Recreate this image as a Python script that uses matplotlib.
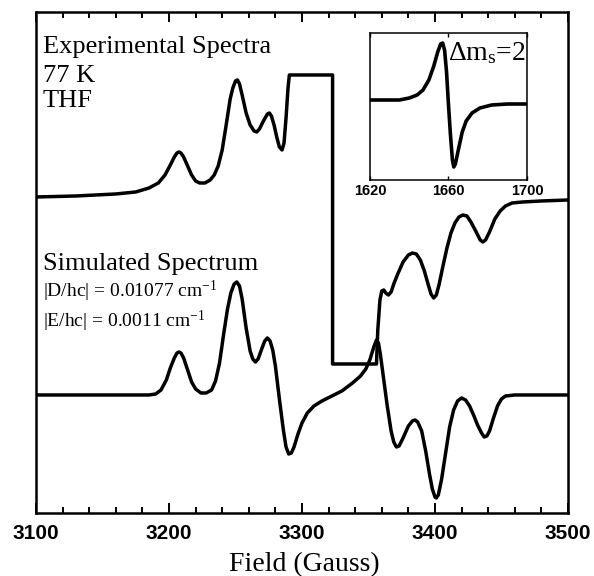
"""
EPR spectra: experimental (77 K, THF) vs simulated, with Δms=2 inset.
"""
import matplotlib
matplotlib.use("Agg")
import matplotlib.pyplot as plt
from matplotlib.ticker import MultipleLocator

# ── data (field in Gauss, intensity in arbitrary units) ──────────────────────
EXP_FIELD = [3100, 3130, 3160, 3175, 3185, 3192, 3197, 3201, 3204, 3206,
             3207.5, 3209, 3211, 3214, 3217, 3220, 3223, 3227, 3231, 3234,
             3237, 3240, 3243, 3246, 3248, 3250, 3251.5, 3253, 3255, 3258,
             3261, 3264, 3266, 3268, 3271, 3274, 3275.5, 3277, 3279, 3281,
             3283, 3285, 3286.5, 3288, 3289.5, 3290.5,
             3323, 3323, 3356,
             3357, 3358.6, 3360, 3361.5, 3363, 3365, 3367, 3369, 3372, 3376,
             3380, 3383, 3386, 3389, 3392, 3395, 3397, 3399, 3401, 3403,
             3406, 3409, 3412, 3415, 3418, 3421, 3424, 3427, 3431, 3434,
             3436, 3438, 3441, 3445, 3449, 3453, 3458, 3466, 3480, 3500]
EXP_INT = [316, 317, 319, 321, 325, 330, 338, 348, 356, 360,
           361, 360, 356, 347, 338, 332, 330, 330, 333, 338,
           347, 363, 388, 414, 425, 432, 433, 429, 418, 400,
           388, 382, 381, 384, 392, 399, 400, 397, 388, 376,
           366, 363, 370, 395, 425, 438,
           438, 149, 149,
           183, 213, 222, 223, 220, 218, 221, 229, 239, 251,
           258, 260, 259, 253, 242, 228, 219, 215, 218, 228,
           247, 265, 280, 290, 296, 298, 297, 291, 281, 273,
           271, 273, 281, 294, 302, 307, 310, 311, 312, 313]

SIM_FIELD = [3100, 3185, 3190, 3194, 3198, 3201, 3204, 3206, 3207.5, 3209,
             3211, 3214, 3217, 3220, 3224, 3228, 3232, 3235, 3238, 3241,
             3244, 3246.5, 3249, 3251, 3253, 3255, 3258, 3261, 3263, 3265,
             3267, 3270, 3272, 3274, 3276, 3278, 3280, 3283, 3286, 3288,
             3290, 3292, 3294, 3297, 3300, 3304, 3309, 3315, 3321, 3330,
             3338, 3344, 3348, 3351, 3354, 3356, 3357.5, 3359, 3361, 3364,
             3367, 3369, 3371, 3373, 3376, 3380, 3383, 3385, 3387, 3390,
             3393, 3396, 3398, 3400, 3401, 3402.5, 3405, 3408, 3411, 3414,
             3417, 3420, 3423, 3426, 3429, 3432, 3435, 3437, 3439, 3441,
             3444, 3447, 3450, 3453, 3460, 3500]
SIM_INT = [118, 118, 119, 123, 133, 145, 155, 160, 161, 160,
           155, 143, 131, 124, 120, 120, 123, 132, 150, 178,
           204, 220, 229, 231, 227, 214, 185, 162, 154, 151,
           154, 165, 172, 175, 172, 163, 147, 114, 83, 66,
           59, 60, 66, 79, 90, 100, 107, 112, 116, 122,
           130, 137, 144, 153, 166, 173, 170, 158, 138, 108,
           82, 71, 66, 67, 75, 87, 92, 93, 91, 82,
           62, 38, 24, 16, 15, 18, 34, 60, 86, 103,
           112, 115, 113, 107, 98, 88, 80, 76, 77, 82,
           95, 107, 114, 117, 118, 118]

INSET_FIELD = [1620, 1635, 1640, 1644, 1647, 1650, 1652.5, 1654.5, 1656, 1657,
               1658, 1659, 1660, 1661, 1662, 1662.7, 1663.5, 1665, 1667, 1669,
               1672, 1676, 1682, 1690, 1700]
INSET_INT = [80, 80, 82, 85, 90, 100, 114, 128, 136, 137,
             130, 108, 75, 45, 20, 13, 16, 30, 48, 59,
             67, 72, 75, 76, 76]

MAIN_TICKS = [3100, 3200, 3300, 3400, 3500]
INSET_TICKS = [1620, 1660, 1700]

# ── style ────────────────────────────────────────────────────────────────────
plt.rcParams["mathtext.fontset"] = "custom"
plt.rcParams["mathtext.rm"] = "Liberation Serif"
plt.rcParams["mathtext.it"] = "Liberation Serif:italic"
SERIF = "Liberation Serif"
SANS = "Liberation Sans"

fig = plt.figure(figsize=(5.94, 5.76), dpi=100)
ax = fig.add_axes([0.0606, 0.1094, 0.8956, 0.8698])

ax.plot(EXP_FIELD, EXP_INT, color="black", lw=2.5, solid_joinstyle="round")
ax.plot(SIM_FIELD, SIM_INT, color="black", lw=2.5, solid_joinstyle="round")

ax.set_xlim(3100, 3500)
ax.set_ylim(0, 501)
ax.set_yticks([])
ax.set_xticks(MAIN_TICKS)
ax.xaxis.set_minor_locator(MultipleLocator(20))
ax.tick_params(axis="x", which="both", direction="in", top=True, bottom=True,
               width=1.4, pad=8)
ax.tick_params(axis="x", which="major", length=7)
ax.tick_params(axis="x", which="minor", length=4)
for lab in ax.get_xticklabels():
    lab.set_fontfamily(SANS)
    lab.set_fontweight("bold")
    lab.set_fontsize(15)
for sp in ax.spines.values():
    sp.set_linewidth(1.8)

fig.text(0.512, 0.009, "Field (Gauss)", family=SERIF, fontsize=20,
         ha="center", va="baseline")

# ── annotations ──────────────────────────────────────────────────────────────
ax.text(0.013, 0.918, "Experimental Spectra", transform=ax.transAxes,
        family=SERIF, fontsize=19, va="baseline")
ax.text(0.013, 0.860, "77 K", transform=ax.transAxes,
        family=SERIF, fontsize=19, va="baseline")
ax.text(0.013, 0.810, "THF", transform=ax.transAxes,
        family=SERIF, fontsize=19, va="baseline")
ax.text(0.013, 0.485, "Simulated Spectrum", transform=ax.transAxes,
        family=SERIF, fontsize=19, va="baseline")
ax.text(0.013, 0.431, r"|D/hc| = 0.01077 cm$^{-1}$", transform=ax.transAxes,
        family=SERIF, fontsize=14, va="baseline")
ax.text(0.013, 0.371, r"|E/hc| = 0.0011 cm$^{-1}$", transform=ax.transAxes,
        family=SERIF, fontsize=14, va="baseline")

# ── inset: Δms = 2 ───────────────────────────────────────────────────────────
axi = fig.add_axes([0.6229, 0.6875, 0.2643, 0.2552])
axi.plot(INSET_FIELD, INSET_INT, color="black", lw=2.6, solid_joinstyle="round")
axi.set_xlim(1620, 1700)
axi.set_ylim(0, 147)
axi.set_yticks([])
axi.set_xticks(INSET_TICKS)
axi.tick_params(axis="x", direction="in", top=True, bottom=True,
                length=3, width=1.0, pad=3)
for lab in axi.get_xticklabels():
    lab.set_fontfamily(SANS)
    lab.set_fontweight("bold")
    lab.set_fontsize(10.5)
for sp in axi.spines.values():
    sp.set_linewidth(1.1)
axi.text(0.995, 0.86, r"$\Delta$m$_{\rm s}$=2", transform=axi.transAxes,
         family=SERIF, fontsize=20, ha="right", va="center")

fig.savefig("out.png", dpi=100)
